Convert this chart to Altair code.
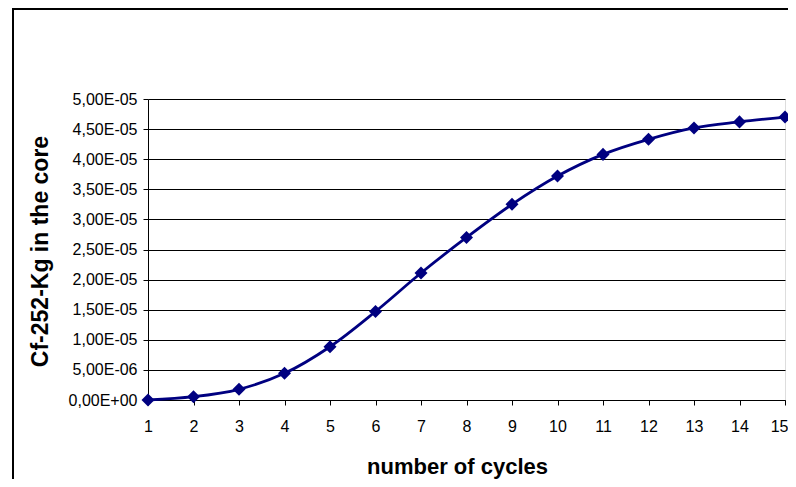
import altair as alt
import pandas as pd

cycles = list(range(1, 16))
cf252_kg = [0.0, 5.5e-7, 1.78e-6, 4.43e-6, 8.85e-6, 1.47e-5, 2.11e-5, 2.70e-5,
            3.25e-5, 3.72e-5, 4.08e-5, 4.33e-5, 4.52e-5, 4.62e-5, 4.70e-5]
y_ticks = [i * 5e-6 for i in range(11)]
x_ticks = cycles

df = pd.DataFrame({"cycle": cycles, "kg": cf252_kg})

W, H = 637, 301
FONT = "Liberation Sans"

x_enc = alt.X("cycle:Q",
              scale=alt.Scale(domain=[1, 15], nice=False, zero=False),
              axis=alt.Axis(values=x_ticks, title="number of cycles", grid=False,
                            tickSize=5, labelPadding=13, labelFontSize=16,
                            labelFont=FONT, labelColor="black", domainColor="black",
                            tickColor="black", titleFont=FONT, titleFontSize=22,
                            titleFontWeight="bold", titleColor="black",
                            titleX=309, titleY=73, titleBaseline="alphabetic",
                            titleAlign="center", labelFlush=False,
                            labelAlign={"expr": "datum.value == 15 ? 'right' : 'center'"},
                            labelOffset={"expr": "datum.value == 15 ? 3 : 0"}))
y_enc = alt.Y("kg:Q",
              scale=alt.Scale(domain=[0, 5e-5], nice=False),
              axis=alt.Axis(values=y_ticks, title="Cf-252-Kg in the core",
                            grid=True, gridColor="black", gridWidth=1.2, gridOpacity=1,
                            tickSize=5, labelPadding=6, labelFontSize=16,
                            labelFont=FONT, labelColor="black", domainColor="black",
                            tickColor="black", titleFont=FONT, titleFontSize=23,
                            titleFontWeight="bold", titleColor="black",
                            titleX=-101, titleY=152, titleBaseline="alphabetic",
                            titleAlign="center", labelFlush=False,
                            labelExpr="replace(replace(replace(format(datum.value, '.2e'), '.', ','), 'e-', 'E-0'), 'e+', 'E+0')"))

border = alt.Chart(df).mark_rect(fillOpacity=0, stroke="black", strokeWidth=2, clip=False).encode(
    x=alt.value(-135), x2=alt.value(W + 60),
    y=alt.value(-90), y2=alt.value(H + 120)
).transform_filter("datum.cycle == 1")

line = alt.Chart(df).mark_line(color="#000080", strokeWidth=2.8,
                               interpolate="catmull-rom", clip=False).encode(x=x_enc, y=y_enc)
points = alt.Chart(df).mark_point(shape="diamond", filled=True, color="#000080",
                                  size=170, opacity=1, clip=False).encode(x=x_enc, y=y_enc)

chart = alt.layer(border, line, points).properties(
    width=W, height=H,
    autosize=alt.AutoSizeParams(type="none"),
    padding={"left": 140, "top": 91, "right": 3, "bottom": 79}
).configure_view(fill="#FFFFCC", stroke="#808080", strokeWidth=1.5).configure(background="white")

chart.save("out.html", embed_options={"renderer": "svg", "actions": False})
